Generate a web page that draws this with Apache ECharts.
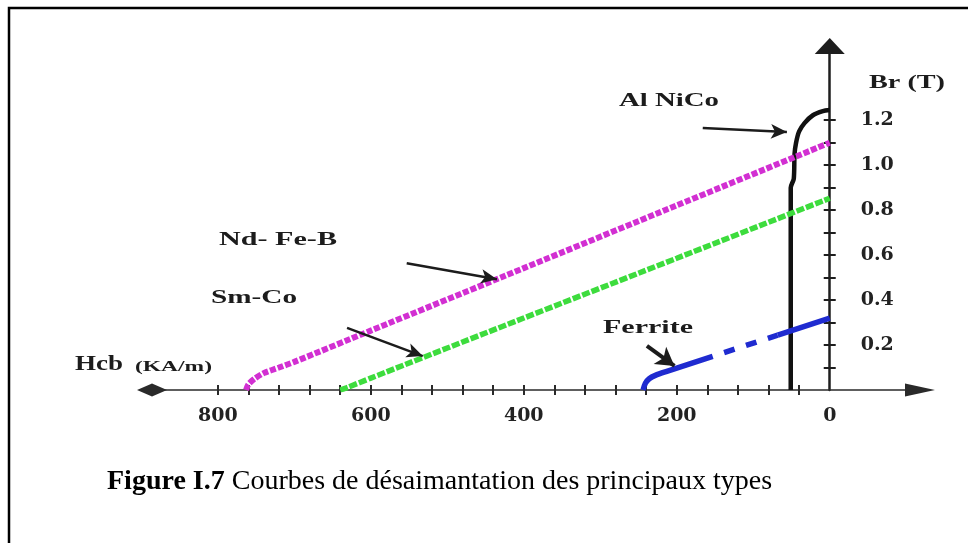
<!DOCTYPE html>
<html>
<head>
<meta charset="utf-8">
<script src="https://cdn.jsdelivr.net/npm/echarts@6/dist/echarts.min.js"></script>
<style>
  html, body { margin: 0; padding: 0; background: #fff; }
  #chart { width: 968px; height: 543px; }
</style>
</head>
<body>
<div id="chart"></div>
<script>
// Demagnetisation curves of the main permanent-magnet families:
// coercive field Hcb (kA/m, increasing to the left) against remanence Br (T).

const ndfebH  = [763, 760, 752, 740, 720, 700, 600, 400, 200, 0];
const ndfebBr = [0, 0.025, 0.05, 0.075, 0.10, 0.125, 0.264, 0.542, 0.821, 1.10];

const smcoH  = [640, 630, 600, 400, 200, 0];
const smcoBr = [0, 0.012, 0.053, 0.32, 0.586, 0.853];

const ferriteH  = [244, 241, 236, 228, 213, 153, 68, 0];
const ferriteBr = [0, 0.03, 0.05, 0.065, 0.083, 0.15, 0.244, 0.32];
const ferriteBroken = [68, 153];   // H range drawn with a broken stroke

const alnicoH  = [51, 51, 47, 46, 44, 40, 33, 22, 9, 0];
const alnicoBr = [0, 0.90, 0.94, 1.05, 1.10, 1.15, 1.187, 1.222, 1.24, 1.245];

const hTicks = [40, 80, 120, 160, 200, 240, 280, 320, 360, 400,
                440, 480, 520, 560, 600, 640, 680, 720, 760, 800];
const hTickLabels = [0, 200, 400, 600, 800];
const brTicks = [0.1, 0.2, 0.3, 0.4, 0.5, 0.6, 0.7, 0.8, 0.9, 1.0, 1.1, 1.2];
const brTickLabels = [0.2, 0.4, 0.6, 0.8, 1.0, 1.2];

// pointer arrows: [from (H, Br), to (H, Br)]
const alnicoPointer  = [[166, 1.165], [56, 1.147]];
const ndfebPointer   = [[553, 0.564], [435, 0.493]];
const smcoPointer    = [[631, 0.276], [532, 0.151]];
const ferritePointer = [[239, 0.196], [203, 0.107]];

const pairs = (h, b) => h.map((v, i) => [v, b[i]]);

const H_MIN = -118, H_MAX = 886, BR_MIN = 0, BR_MAX = 1.53;
const GRID = { left: 152, right: 48, top: 46, bottom: 153 };
const CHART_W = 968;
const ink = '#1c1c1c';
const labelFont = '"DejaVu Serif", serif';

// the Br axis stands on H = 0; shift it in from the grid's right edge
const plotW = CHART_W - GRID.left - GRID.right;
const brAxisOffset = -((0 - H_MIN) / (H_MAX - H_MIN)) * plotW;

function pointer(p, opts) {
  opts = opts || {};
  return {
    silent: true,
    animation: false,
    symbol: ['none', 'arrow'],
    symbolSize: opts.head || [11, 16],
    label: { show: false },
    emphasis: { disabled: true },
    lineStyle: { color: ink, width: opts.width || 2.5, type: 'solid' },
    data: [[{ coord: p[0] }, { coord: p[1] }]]
  };
}

const ferriteAll = pairs(ferriteH, ferriteBr);
const ferriteLow  = ferriteAll.filter(d => d[0] >= ferriteBroken[1]);
const ferriteMid  = ferriteAll.filter(d => d[0] >= ferriteBroken[0] && d[0] <= ferriteBroken[1]);
const ferriteHigh = ferriteAll.filter(d => d[0] <= ferriteBroken[0]);

const blue = '#1f2bd0';

const chart = echarts.init(document.getElementById('chart'), null, { renderer: 'canvas' });

const xBase = {
  type: 'value', inverse: true, min: H_MIN, max: H_MAX, position: 'bottom',
  splitLine: { show: false }
};
const yBase = {
  type: 'value', min: BR_MIN, max: BR_MAX, position: 'right', offset: brAxisOffset,
  splitLine: { show: false }
};

// annotation texts (stretched bold serif)
const notes = [
  { text: 'Al NiCo',  x: 619, y: 101, w: 100, size: 19 },
  { text: 'Nd- Fe-B', x: 219, y: 240, w: 118, size: 19 },
  { text: 'Sm-Co',    x: 211, y: 298, w: 86,  size: 19 },
  { text: 'Ferrite',  x: 603, y: 328, w: 90,  size: 19 },
  { text: 'Hcb',      x: 75,  y: 364, w: 48,  size: 22 },
  { text: '(KA/m)',   x: 135, y: 367, w: 77,  size: 15 },
  { text: 'Br (T)',   x: 869, y: 83,  w: 76,  size: 19 }
];
const measure = document.createElement('canvas').getContext('2d');
function noteEl(n) {
  const font = 'bold ' + n.size + 'px "Liberation Serif"';
  measure.font = font;
  const w = measure.measureText(n.text).width;
  return {
    type: 'text', x: n.x, y: n.y, scaleX: n.w / w, silent: true,
    style: { text: n.text, font: font, fill: ink, verticalAlign: 'middle', align: 'left' }
  };
}

chart.setOption({
  animation: false,
  backgroundColor: '#ffffff',
  grid: Object.assign({ containLabel: false, outerBoundsMode: 'none' }, GRID),
  xAxis: [
    Object.assign({}, xBase, {
      axisLine: {
        onZero: false,
        symbol: ['diamond', 'triangle'],
        symbolSize: [13, 30],
        lineStyle: { color: '#2a2a2a', width: 1.6 }
      },
      axisTick: { show: true, customValues: hTicks, length: 5, lineStyle: { color: '#2a2a2a', width: 2 } },
      axisLabel: {
        customValues: hTickLabels, margin: 17,
        fontFamily: labelFont, fontWeight: 'bold', fontSize: 19, color: '#222'
      }
    }),
    Object.assign({}, xBase, {
      axisLine: { show: false, onZero: false },
      axisTick: { show: true, inside: true, customValues: hTicks, length: 5, lineStyle: { color: '#2a2a2a', width: 2 } },
      axisLabel: { show: false }
    })
  ],
  yAxis: [
    Object.assign({}, yBase, {
      axisLine: {
        onZero: false,
        symbol: ['none', 'triangle'],
        symbolSize: [30, 16],
        lineStyle: { color: '#1e1e1e', width: 2.5 }
      },
      axisTick: { show: true, customValues: brTicks, length: 6, lineStyle: { color: '#1e1e1e', width: 2 } },
      axisLabel: {
        customValues: brTickLabels, margin: 31,
        formatter: v => Number(v).toFixed(1),
        fontFamily: labelFont, fontWeight: 'bold', fontSize: 19, color: '#222'
      }
    }),
    Object.assign({}, yBase, {
      axisLine: { show: false, onZero: false },
      axisTick: { show: true, inside: true, customValues: brTicks, length: 6, lineStyle: { color: '#1e1e1e', width: 2 } },
      axisLabel: { show: false }
    })
  ],
  series: [
    {
      name: 'Al NiCo', type: 'line', data: pairs(alnicoH, alnicoBr),
      symbol: 'none', smooth: 0.25,
      lineStyle: { color: '#111', width: 4.5 },
      markLine: pointer(alnicoPointer)
    },
    {
      name: 'Nd-Fe-B', type: 'line', data: pairs(ndfebH, ndfebBr),
      symbol: 'none', smooth: 0.25,
      lineStyle: { color: '#d22fd2', width: 6, type: [6, 2] },
      markLine: pointer(ndfebPointer)
    },
    {
      name: 'Sm-Co', type: 'line', data: pairs(smcoH, smcoBr),
      symbol: 'none', smooth: 0.2,
      lineStyle: { color: '#3ddc3d', width: 5.5, type: [8, 2] },
      markLine: pointer(smcoPointer)
    },
    {
      name: 'Ferrite', type: 'line', data: ferriteLow,
      symbol: 'none', smooth: 0.3,
      lineStyle: { color: blue, width: 5.5 },
      markLine: pointer(ferritePointer, { width: 4, head: [16, 18] })
    },
    {
      name: 'Ferrite', type: 'line', data: ferriteMid,
      symbol: 'none',
      lineStyle: { color: blue, width: 5.5, type: [11, 12], dashOffset: 11 }
    },
    {
      name: 'Ferrite', type: 'line', data: ferriteHigh,
      symbol: 'none',
      lineStyle: { color: blue, width: 5.5 }
    }
  ],
  graphic: [
    {
      type: 'polyline', silent: true,
      shape: { points: [[9, 543], [9, 8], [968, 8]] },
      style: { stroke: '#000', lineWidth: 2.5, fill: null }
    }
  ].concat(notes.map(noteEl)).concat([
    {
      type: 'text', x: 107, y: 482, silent: true,
      style: {
        text: '{b|Figure I.7} Courbes de désaimantation des principaux types',
        font: '28px "Liberation Serif"',
        fill: '#000', verticalAlign: 'middle', align: 'left',
        rich: { b: { fontFamily: 'Liberation Serif', fontWeight: 'bold', fontSize: 28 } }
      }
    }
  ])
});
</script>
</body>
</html>
